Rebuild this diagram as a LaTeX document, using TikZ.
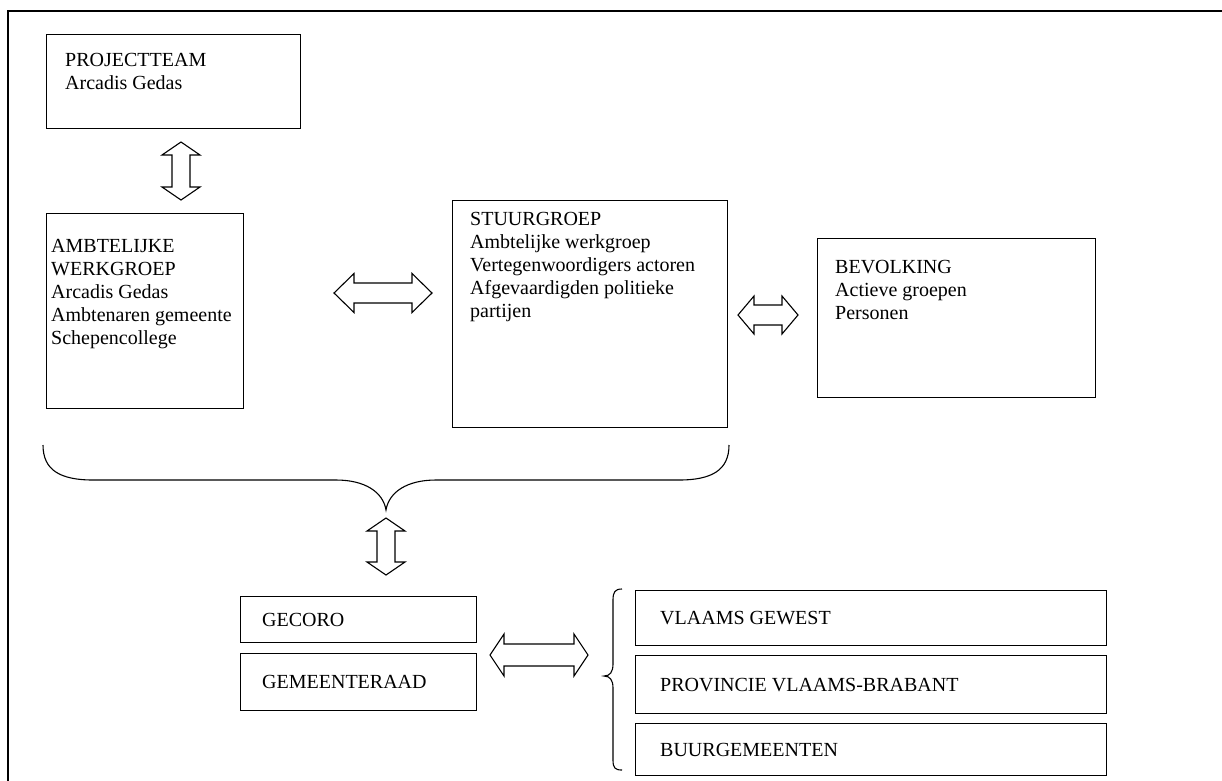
\documentclass[tikz,border=0pt]{standalone}
\usepackage{fontspec}
\setmainfont{Liberation Serif}
\usetikzlibrary{positioning,calc}
\tikzset{
  panel/.style={draw,line width=1.3pt,anchor=north west,inner sep=0pt},
  txt/.style={anchor=north west,align=left,inner sep=0pt,font=\fontsize{20}{23}\selectfont},
  oneline/.style={anchor=west,inner sep=0pt,font=\fontsize{20}{23}\selectfont},
  blk/.style={draw,line width=1.1pt,fill=white,line join=miter},
  brc/.style={draw,line width=1.1pt},
}
% block double arrows: ends, centre, half head, half shaft, head length
\newcommand{\hblock}[6]{\draw[blk] (#1,#3) -- (#1+#6,#3-#4) -- (#1+#6,#3-#5) -- (#2-#6,#3-#5) -- (#2-#6,#3-#4) -- (#2,#3)
  -- (#2-#6,#3+#4) -- (#2-#6,#3+#5) -- (#1+#6,#3+#5) -- (#1+#6,#3+#4) -- cycle;}
\newcommand{\vblock}[6]{\draw[blk] (#1,#2) -- (#1+#4,#2+#6) -- (#1+#5,#2+#6) -- (#1+#5,#3-#6) -- (#1+#4,#3-#6) -- (#1,#3)
  -- (#1-#4,#3-#6) -- (#1-#5,#3-#6) -- (#1-#5,#2+#6) -- (#1-#4,#2+#6) -- cycle;}

\begin{document}
\begin{tikzpicture}[x=1pt,y=-1pt]
\clip (0,0) rectangle (1222,780);
% outer frame
\draw[line width=1.6pt] (8,800) -- (8,11) -- (1240,11);

% boxes, top row
\node[panel,minimum width=254pt,minimum height=94pt] (proj) at (46,34) {};
\node[txt] (projT) at ([shift={(19,19.5)}]proj.north west) {PROJECTTEAM\\Arcadis Gedas};

\node[panel,minimum width=197pt,minimum height=195pt] (ambt) at (46,213) {};
\node[txt] (ambtT) at ([shift={(5,26)}]ambt.north west)
  {AMBTELIJKE\\WERKGROEP\\Arcadis Gedas\\Ambtenaren gemeente\\Schepencollege};

\node[panel,minimum width=275pt,minimum height=227pt] (stuur) at (452,200) {};
\node[txt] (stuurT) at ([shift={(18,12)}]stuur.north west)
  {STUURGROEP\\Ambtelijke werkgroep\\Vertegenwoordigers actoren\\Afgevaardigden politieke\\partijen};

\node[panel,minimum width=278pt,minimum height=159pt] (bevolk) at (817,238) {};
\node[txt] (bevolkT) at ([shift={(18,22)}]bevolk.north west) {BEVOLKING\\Actieve groepen\\Personen};

% boxes, bottom
\node[panel,minimum width=236pt,minimum height=46pt] (gecoro) at (240,596) {};
\node[oneline] (gecoroT) at ([xshift=22pt]gecoro.west) {GECORO};
\node[panel,minimum width=236pt,minimum height=57pt] (gemraad) at (240,653) {};
\node[oneline] (gemraadT) at ([xshift=22pt]gemraad.west) {GEMEENTERAAD};

\node[panel,minimum width=471pt,minimum height=55pt] (gewest) at (635,590) {};
\node[oneline] (gewestT) at ([xshift=25pt]gewest.west) {VLAAMS GEWEST};
\node[panel,minimum width=471pt,minimum height=58pt] (prov) at (635,655) {};
\node[oneline] (provT) at ([xshift=25pt]prov.west) {PROVINCIE VLAAMS-BRABANT};
\node[panel,minimum width=471pt,minimum height=52pt] (buur) at (635,723) {};
\node[oneline] (buurT) at ([xshift=25pt]buur.west) {BUURGEMEENTEN};

% block arrows
\vblock{181}{142}{200}{19}{9}{13}
\hblock{334}{432}{293}{19.5}{10}{20}
\hblock{738}{798}{315}{19}{10}{16}
\vblock{386}{518}{575}{19}{9}{13}
\hblock{490}{588}{655}{21}{11}{14}

% braces
\draw[brc] (43,445) .. controls (43,470) and (60,480) .. (93,480) -- (336,480)
  .. controls (365,480) and (383,492) .. (386,510) .. controls (389,492) and (407,480) .. (436,480)
  -- (679,480) .. controls (712,480) and (729,470) .. (729,445);
\draw[brc] (622,589) .. controls (615,589) and (613,592) .. (613,600) -- (613,664)
  .. controls (613,672) and (610,676) .. (604,676) .. controls (610,676) and (613,680) .. (613,688)
  -- (613,760) .. controls (613,768) and (615,770) .. (622,770);
\end{tikzpicture}
\end{document}
